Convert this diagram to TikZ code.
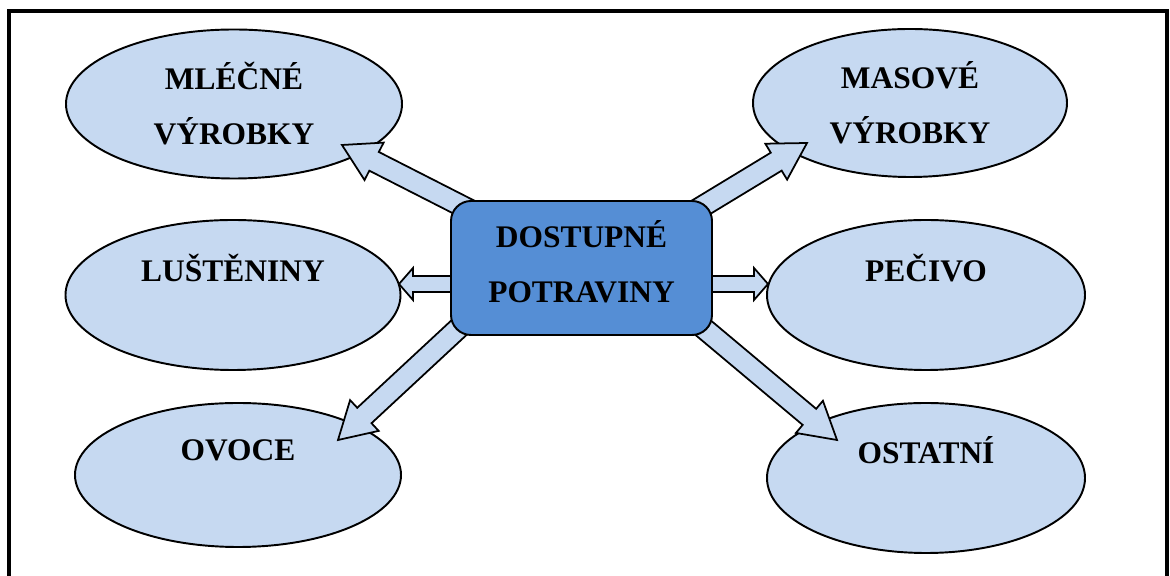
\documentclass[tikz,border=0pt]{standalone}
\usepackage{fontspec}
\setmainfont{Liberation Serif}
\usetikzlibrary{shapes.geometric,calc}
\definecolor{ellfill}{RGB}{198,217,241}
\definecolor{boxfill}{RGB}{85,142,213}
\pgfdeclarelayer{front}
\pgfsetlayers{main,front}
\newcommand{\foodfont}{\fontsize{17.9pt}{31.3pt}\selectfont\bfseries}

\begin{document}
\begin{tikzpicture}[
    food/.style 2 args={ellipse,draw,fill=ellfill,line width=1.1pt,
    minimum width=#1,minimum height=#2,inner sep=0pt,align=center,font=\foodfont},
    hub/.style={draw,fill=boxfill,rounded corners=0.4cm,line width=1.1pt,
    minimum width=5.22cm,minimum height=2.68cm,align=center,font=\foodfont},
    barrow/.style n args={3}{
    draw,fill=ellfill,line width=1pt,line join=miter,
    to path={
    ($(\tikztostart)!-0.6cm!(\tikztotarget)!#1/2!-90:(\tikztotarget)$)
    -- ($(\tikztotarget)!#3!(\tikztostart)!#1/2!-90:(\tikztotarget)$)
    -- ($(\tikztotarget)!#3!(\tikztostart)!#2/2!-90:(\tikztotarget)$)
    -- (\tikztotarget)
    -- ($(\tikztotarget)!#3!(\tikztostart)!#2/2!90:(\tikztotarget)$)
    -- ($(\tikztotarget)!#3!(\tikztostart)!#1/2!90:(\tikztotarget)$)
    -- ($(\tikztostart)!-0.6cm!(\tikztotarget)!#1/2!90:(\tikztotarget)$)
    -- cycle}
    },
    darrow/.style={barrow={0.42cm}{0.84cm}{0.72cm}},
    harrow/.style={barrow={0.32cm}{0.64cm}{0.28cm}}
]
\useasboundingbox (0,0) rectangle (23.4,11.52);

%Draw the frame
\draw[line width=2.56pt,line join=miter] (0.18,0) -- (0.18,11.3) -- (23.34,11.3) -- (23.34,0);

%Draw the groups
\node[food={6.72cm}{2.98cm}] (mlecne) at (4.68,9.44) {MLÉČNÉ\\VÝROBKY};
\node[food={6.7cm}{3cm}] (luste) at (4.66,5.62) {LUŠTĚNINY\\\mbox{}};
\node[food={6.52cm}{2.88cm}] (ovoce) at (4.76,2.02) {\vphantom{Ý}OVOCE\\\mbox{}};
\node[food={6.28cm}{2.96cm}] (masove) at (18.2,9.46) {MASOVÉ\\VÝROBKY};
\node[food={6.36cm}{3cm}] (pecivo) at (18.52,5.62) {PEČIVO\\\mbox{}};
\node[food={6.36cm}{3cm}] (ostatni) at (18.52,1.96) {OSTATNÍ\\\mbox{}};

\begin{pgfonlayer}{front}
\node[hub] (potraviny) at (11.63,6.16) {DOSTUPNÉ\\POTRAVINY\rule[-0.24cm]{0pt}{0pt}};
\end{pgfonlayer}

%Draw the connections
\coordinate (mlecnetip) at (6.84,8.62);
\coordinate (lustetip) at (7.98,5.84);
\coordinate (ovocetip) at (6.76,2.72);
\coordinate (masovetip) at (16.14,8.66);
\coordinate (pecivotip) at (15.36,5.84);
\coordinate (ostatnitip) at (16.74,2.72);
\draw[darrow] (potraviny.north west) to (mlecnetip);
\draw[harrow] (potraviny.center |- lustetip) to (lustetip);
\draw[darrow] (potraviny.south west) to (ovocetip);
\draw[darrow] (potraviny.north east) to (masovetip);
\draw[harrow] (potraviny.center |- pecivotip) to (pecivotip);
\draw[darrow] (potraviny.south east) to (ostatnitip);

\end{tikzpicture}
\end{document}
